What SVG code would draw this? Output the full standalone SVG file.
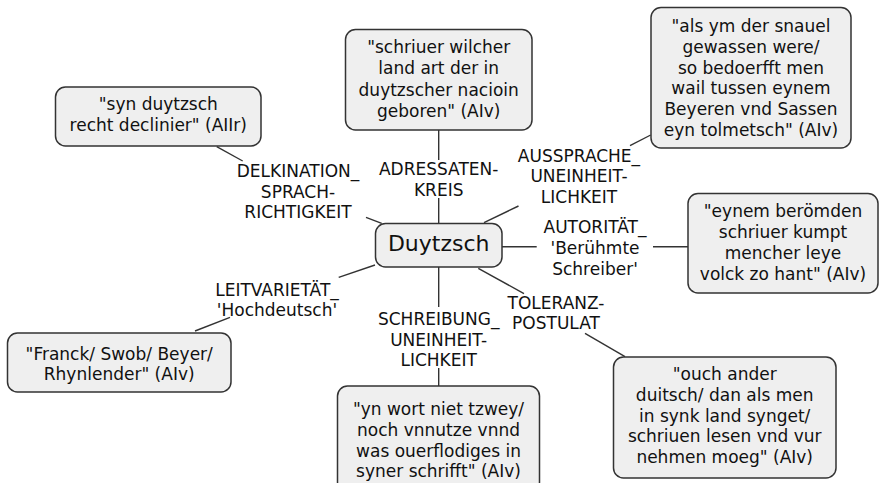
<svg xmlns="http://www.w3.org/2000/svg" width="881" height="483" viewBox="0 0 881 483">
<style>
.box{fill:#efefef;stroke:#333;stroke-width:1.5}
.t{font-family:"DejaVu Sans",Verdana,sans-serif;font-size:17px;fill:#111;text-anchor:middle}
.big{font-size:22px}
.c line{stroke:#333;stroke-width:1.4}
</style>
<rect width="881" height="483" fill="#fff"/>
<g class="c" id="connectors">
<line x1="216.7" y1="146.7" x2="242.7" y2="161"/>
<line x1="366" y1="217.3" x2="381.7" y2="223.3"/>
<line x1="438.7" y1="130" x2="438.7" y2="160"/>
<line x1="438.7" y1="198" x2="438.7" y2="223"/>
<line x1="650.7" y1="135" x2="630" y2="145.7"/>
<line x1="518.5" y1="206" x2="484" y2="222.7"/>
<line x1="502" y1="246.7" x2="536.7" y2="246.7"/>
<line x1="653" y1="246.7" x2="688" y2="246.7"/>
<line x1="478.3" y1="268.3" x2="524" y2="293.7"/>
<line x1="585" y1="333.3" x2="625" y2="356.7"/>
<line x1="438.7" y1="267" x2="438.7" y2="307"/>
<line x1="438.7" y1="368" x2="438.7" y2="386"/>
<line x1="375" y1="265" x2="338.7" y2="277.3"/>
<line x1="230" y1="317.3" x2="195" y2="331"/>
</g>
<g id="labels" class="t">
<text x="298" y="177">DELKINATION_</text>
<text x="298" y="197.7">SPRACH-</text>
<text x="298" y="218.3">RICHTIGKEIT</text>
<text x="438.7" y="175">ADRESSATEN-</text>
<text x="438.7" y="195.7">KREIS</text>
<text x="579" y="161.5">AUSSPRACHE_</text>
<text x="579" y="182.2">UNEINHEIT-</text>
<text x="579" y="202.9">LICHKEIT</text>
<text x="595" y="233.3">AUTORITÄT_</text>
<text x="595" y="254">'Berühmte</text>
<text x="595" y="274.7">Schreiber'</text>
<text x="556" y="308.5">TOLERANZ-</text>
<text x="556" y="329.2">POSTULAT</text>
<text x="438.7" y="325">SCHREIBUNG_</text>
<text x="438.7" y="345.7">UNEINHEIT-</text>
<text x="438.7" y="366.4">LICHKEIT</text>
<text x="277" y="295.5">LEITVARIETÄT_</text>
<text x="277" y="316.2">'Hochdeutsch'</text>
</g>
<g id="center">
<rect class="box" x="375.5" y="223.5" width="126.5" height="43.5" rx="10"/>
<text class="t big" x="438.7" y="251">Duytzsch</text>
</g>
<g id="n-declinier">
<rect class="box" x="55.5" y="87" width="205.5" height="59" rx="10"/>
<text class="t" x="158.3" y="110">"syn duytzsch</text>
<text class="t" x="158.3" y="131">recht declinier" (AIIr)</text>
</g>
<g id="n-schriuer">
<rect class="box" x="345.5" y="29.5" width="186.5" height="100.5" rx="10"/>
<text class="t" x="438.7" y="53.3">"schriuer wilcher</text>
<text class="t" x="438.7" y="74.4">land art der in</text>
<text class="t" x="438.7" y="95.5">duytzscher nacioin</text>
<text class="t" x="438.7" y="116.6">geboren" (AIv)</text>
</g>
<g id="n-snauel">
<rect class="box" x="651" y="7.5" width="200" height="140.5" rx="10"/>
<text class="t" x="751" y="32.2">"als ym der snauel</text>
<text class="t" x="751" y="52.9">gewassen were/</text>
<text class="t" x="751" y="73.6">so bedoerfft men</text>
<text class="t" x="751" y="94.3">wail tussen eynem</text>
<text class="t" x="751" y="115">Beyeren vnd Sassen</text>
<text class="t" x="751" y="135.7">eyn tolmetsch" (AIv)</text>
</g>
<g id="n-beromden">
<rect class="box" x="688" y="193.5" width="190" height="99.5" rx="10"/>
<text class="t" x="783" y="217.3">"eynem berömden</text>
<text class="t" x="783" y="238.2">schriuer kumpt</text>
<text class="t" x="783" y="259.1">mencher leye</text>
<text class="t" x="783" y="280">volck zo hant" (AIv)</text>
</g>
<g id="n-franck">
<rect class="box" x="7.5" y="333" width="223.5" height="59" rx="10"/>
<text class="t" x="119.2" y="359.5">"Franck/ Swob/ Beyer/</text>
<text class="t" x="119.2" y="380.2">Rhynlender" (AIv)</text>
</g>
<g id="n-wort">
<rect class="box" x="337.5" y="386" width="202" height="106" rx="10"/>
<text class="t" x="438.5" y="415.3">"yn wort niet tzwey/</text>
<text class="t" x="438.5" y="435.9">noch vnnutze vnnd</text>
<text class="t" x="438.5" y="456.5">was ouerflodiges in</text>
<text class="t" x="438.5" y="477.1">syner schrifft" (AIv)</text>
</g>
<g id="n-ouch">
<rect class="box" x="613.5" y="357" width="222.5" height="121" rx="10"/>
<text class="t" x="724.7" y="380.2">"ouch ander</text>
<text class="t" x="724.7" y="400.9">duitsch/ dan als men</text>
<text class="t" x="724.7" y="421.6">in synk land synget/</text>
<text class="t" x="724.7" y="442.3">schriuen lesen vnd vur</text>
<text class="t" x="724.7" y="463">nehmen moeg" (AIv)</text>
</g>
</svg>
